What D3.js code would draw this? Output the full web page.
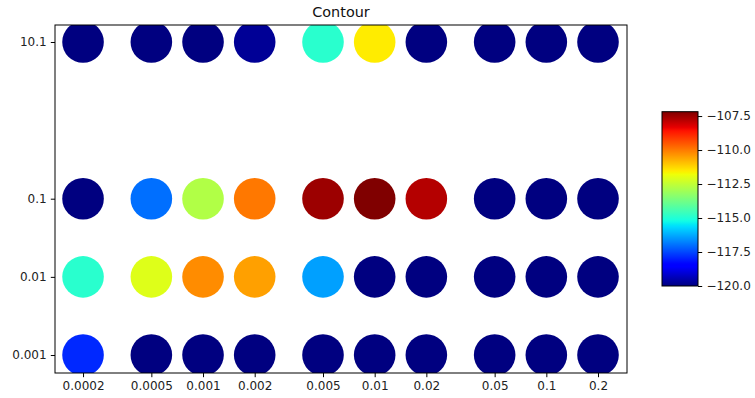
<!DOCTYPE html>
<html>
<head>
<meta charset="utf-8">
<script src="https://cdn.jsdelivr.net/npm/d3@7"></script>
<style>
  html, body { margin: 0; padding: 0; background: #fff; }
  svg { display: block; font-family: "DejaVu Sans", sans-serif; }
</style>
</head>
<body>
<svg id="chart" width="755" height="398"></svg>
<script>
// Sample positions along each axis (both log-scaled)
const xValues = [0.0002, 0.0005, 0.001, 0.002, 0.005, 0.01, 0.02, 0.05, 0.1, 0.2];
const xTickLabels = ["0.0002", "0.0005", "0.001", "0.002", "0.005", "0.01", "0.02", "0.05", "0.1", "0.2"];
const yValues = [0.001, 0.01, 0.1, 10.1];
const yTickLabels = ["0.001", "0.01", "0.1", "10.1"];

// Measured level at each (x, y) sample, one array per y row
const levelsAt0_001 = [-117.9, -120, -120, -120, -120, -120, -120, -120, -120, -120];
const levelsAt0_01  = [-114.87, -112.05, -110.24, -110.5, -116.39, -120, -120, -120, -120, -120];
const levelsAt0_1   = [-120, -117.0, -112.76, -109.96, -107.49, -107.18, -107.76, -120, -120, -120];
const levelsAt10_1  = [-120, -120, -120, -119.75, -114.87, -111.54, -120, -120, -120, -120];
const levelRows = [levelsAt0_001, levelsAt0_01, levelsAt0_1, levelsAt10_1];

// Colour bar ticks
const cbarTicks = [-120, -117.5, -115, -112.5, -110, -107.5];

// Flatten rows into points
const points = [];
yValues.forEach((y, i) => {
  xValues.forEach((x, j) => points.push({ x, y, v: levelRows[i][j] }));
});
const vMin = d3.min(points, d => d.v);
const vMax = d3.max(points, d => d.v);

// Jet colormap, piecewise linear like matplotlib's segment data
function seg(stops, t) {
  for (let k = 1; k < stops.length; k++) {
    if (t <= stops[k][0]) {
      const [t0, v0] = stops[k - 1], [t1, v1] = stops[k];
      return v0 + (v1 - v0) * (t - t0) / (t1 - t0);
    }
  }
  return stops[stops.length - 1][1];
}
const jetR = [[0, 0], [0.35, 0], [0.66, 1], [0.89, 1], [1, 0.5]];
const jetG = [[0, 0], [0.125, 0], [0.375, 1], [0.64, 1], [0.91, 0], [1, 0]];
const jetB = [[0, 0.5], [0.11, 1], [0.34, 1], [0.65, 0], [1, 0]];
function jet(t) {
  t = Math.max(0, Math.min(1, t));
  const c = v => Math.round(255 * v);
  return `rgb(${c(seg(jetR, t))},${c(seg(jetG, t))},${c(seg(jetB, t))})`;
}
const norm = d3.scaleLinear().domain([vMin, vMax]).range([0, 1]);
const color = v => jet(norm(v));

// Layout
const plot = { left: 55, top: 25, right: 627, bottom: 373 };
const svg = d3.select("#chart");

const x = d3.scaleLog().domain([1.373e-4, 0.2951]).range([plot.left, plot.right]);
const y = d3.scaleLog().domain([5.89e-4, 16.67]).range([plot.bottom, plot.top]);

svg.append("defs").append("clipPath").attr("id", "plotClip")
  .append("rect")
  .attr("x", plot.left).attr("y", plot.top)
  .attr("width", plot.right - plot.left).attr("height", plot.bottom - plot.top);

// Scatter markers
svg.append("g").attr("clip-path", "url(#plotClip)")
  .selectAll("circle").data(points).join("circle")
  .attr("cx", d => x(d.x))
  .attr("cy", d => y(d.y))
  .attr("r", 20.8)
  .attr("fill", d => color(d.v));

// Axes
const tickStyle = g => {
  g.selectAll(".tick line").attr("stroke", "#000").attr("stroke-width", 1);
  g.selectAll(".tick text").attr("fill", "#222").attr("font-size", "12px")
    .attr("font-family", "DejaVu Sans, sans-serif");
  g.select(".domain").remove();
};

svg.append("g")
  .attr("transform", `translate(0,${plot.bottom})`)
  .call(d3.axisBottom(x).tickValues(xValues)
    .tickFormat((d, i) => xTickLabels[i]).tickSizeOuter(0).tickSize(4.2).tickPadding(4.2))
  .call(tickStyle);

svg.append("g")
  .attr("transform", `translate(${plot.left},0)`)
  .call(d3.axisLeft(y).tickValues(yValues)
    .tickFormat((d, i) => yTickLabels[i]).tickSizeOuter(0).tickSize(4.2).tickPadding(4.2))
  .call(tickStyle);

// Frame
svg.append("rect")
  .attr("x", plot.left).attr("y", plot.top)
  .attr("width", plot.right - plot.left).attr("height", plot.bottom - plot.top)
  .attr("fill", "none").attr("stroke", "#000").attr("stroke-width", 1);

// Title
svg.append("text")
  .attr("x", (plot.left + plot.right) / 2).attr("y", 17)
  .attr("text-anchor", "middle").attr("font-size", "14.4px").attr("fill", "#111")
  .text("Contour");

// Colour bar
const cb = { left: 662, right: 698, top: 111.7, bottom: 286 };
const cy = d3.scaleLinear().domain([vMin, vMax]).range([cb.bottom, cb.top]);

const grad = svg.select("defs").append("linearGradient")
  .attr("id", "jetGrad").attr("x1", 0).attr("y1", 1).attr("x2", 0).attr("y2", 0);
d3.range(0, 1.0001, 0.01).forEach(t => {
  grad.append("stop").attr("offset", t).attr("stop-color", jet(t));
});

svg.append("rect")
  .attr("x", cb.left).attr("y", cb.top)
  .attr("width", cb.right - cb.left).attr("height", cb.bottom - cb.top)
  .attr("fill", "url(#jetGrad)")
  .attr("stroke", "#000").attr("stroke-width", 1);

const fmt = v => d3.format(".1f")(v).replace("-", "\u2212");
svg.append("g")
  .attr("transform", `translate(${cb.right},0)`)
  .call(d3.axisRight(cy).tickValues(cbarTicks).tickFormat(fmt)
    .tickSizeOuter(0).tickSize(4.2).tickPadding(4.2))
  .call(tickStyle);
</script>
</body>
</html>
